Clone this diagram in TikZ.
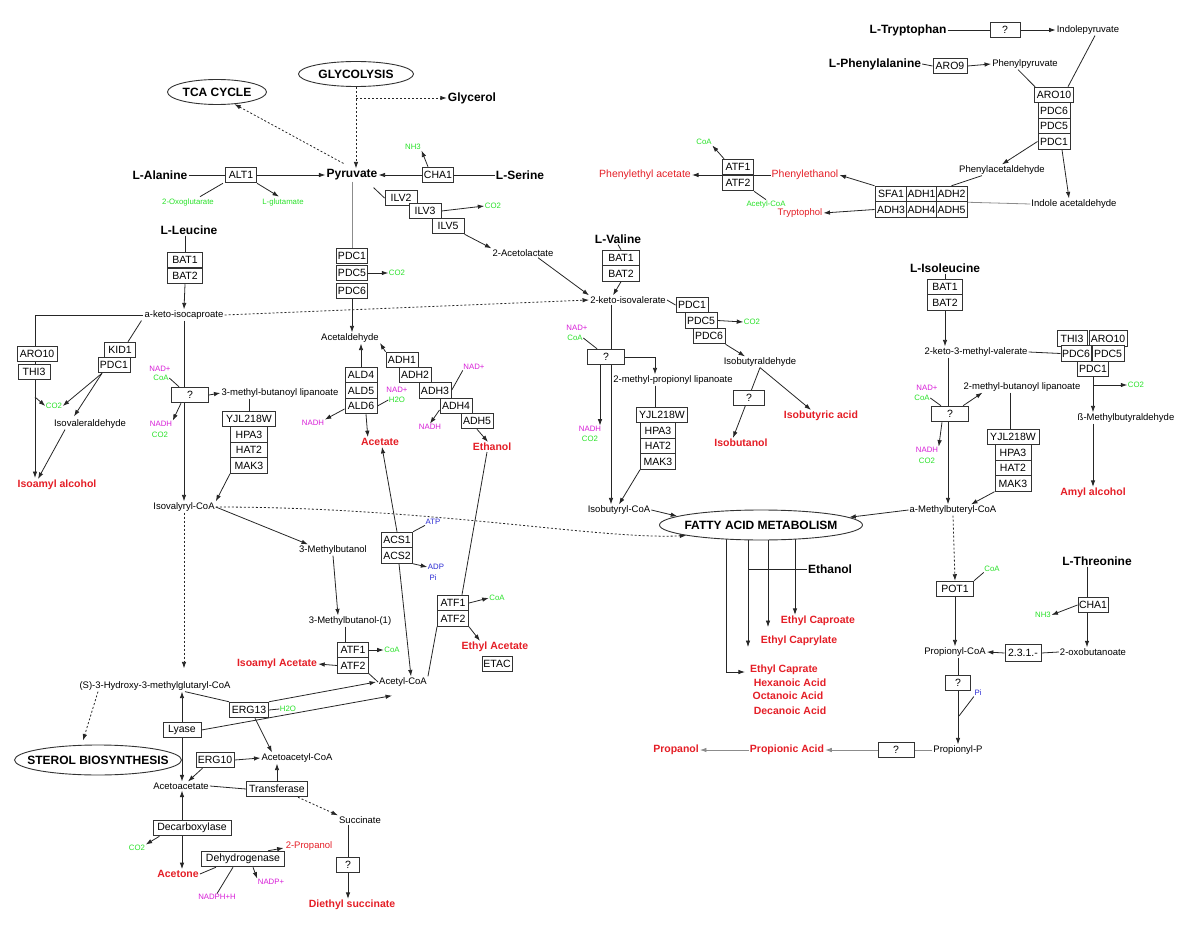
\documentclass[tikz,border=0pt]{standalone}
\usepackage{fontspec}
\setmainfont{Liberation Sans}
\usetikzlibrary{shapes.geometric,arrows.meta,calc,backgrounds}
\definecolor{fred}{RGB}{228,30,38}
\definecolor{fgreen}{RGB}{40,225,40}
\definecolor{fmag}{RGB}{215,30,215}
\definecolor{fblue}{RGB}{40,40,210}
\begin{document}
\begin{tikzpicture}[x=1pt,y=-1pt,
  bigtxt/.style={font=\fontsize{12}{14}\selectfont\bfseries, inner sep=1pt},
  met/.style={font=\fontsize{9.5}{11}\selectfont, inner sep=1pt},
  prod/.style={font=\fontsize{10.5}{12}\selectfont\bfseries, text=fred, inner sep=1pt},
  prodr/.style={font=\fontsize{10.5}{12}\selectfont, text=fred, inner sep=1pt},
  enz/.style={draw=black!80, line width=1pt, fill=white, font=\fontsize{10.5}{12}\selectfont, minimum height=15.5pt, minimum width=31pt, inner sep=1pt},
  coflbl/.style={font=\fontsize{7.8}{9}\selectfont, inner sep=0.5pt},
  cofg/.style={coflbl, text=fgreen},
  cofm/.style={coflbl, text=fmag},
  cofb/.style={coflbl, text=fblue},
  pw/.style={ellipse, draw=black!80, line width=0.9pt, fill=white, font=\fontsize{12}{14}\selectfont\bfseries, inner xsep=0pt, inner ysep=2pt},
  ln/.style={draw=black!85, line width=0.8pt},
  arr/.style={ln, -{Latex[length=6.5pt,width=4.5pt]}},
  dsh/.style={dash pattern=on 2pt off 2pt},
  gry/.style={draw=black!45},
]
\useasboundingbox (0,0) rectangle (1200,928);

% ---------- pathway ellipses ----------
\node[pw, minimum width=115pt, minimum height=25pt] (glyc) at (356,74) {GLYCOLYSIS};
\node[pw, minimum width=99pt, minimum height=25pt] (tca) at (217,92) {TCA CYCLE};
\node[pw, minimum width=203pt, minimum height=30pt, inner xsep=-10pt] (fam) at (761,525) {FATTY ACID METABOLISM};
\node[pw, minimum width=167pt, minimum height=30pt, inner xsep=-16pt] (sterol) at (98,760) {STEROL BIOSYNTHESIS};

% ---------- big labels ----------
\node[bigtxt] (glycerol) at (472,98) {Glycerol};
\node[bigtxt] (alanine) at (160,175) {L-Alanine};
\node[bigtxt] (pyruvate) at (352,175) {Pyruvate};
\node[bigtxt] (serine) at (520,175) {L-Serine};
\node[bigtxt] (leucine) at (189,230) {L-Leucine};
\node[bigtxt] (valine) at (618,239) {L-Valine};
\node[bigtxt] (trp) at (908,30) {L-Tryptophan};
\node[bigtxt] (phe) at (875,64) {L-Phenylalanine};
\node[bigtxt] (ile) at (945,268) {L-Isoleucine};
\node[bigtxt] (thr) at (1097,561) {L-Threonine};
\node[bigtxt] (ethfa) at (830,569) {Ethanol};

% ---------- metabolites ----------
\node[met] (acetolactate) at (523,253) {2-Acetolactate};
\node[met] (kiv) at (628,300) {2-keto-isovalerate};
\node[met] (kic) at (184,315) {a-keto-isocaproate};
\node[met] (isovald) at (90,424) {Isovaleraldehyde};
\node[met] (mbl) at (280,393) {3-methyl-butanoyl lipanoate};
\node[met] (ivcoa) at (184,507) {Isovalyryl-CoA};
\node[met] (mb) at (333,550) {3-Methylbutanol};
\node[met] (mb1) at (350,621) {3-Methylbutanol-(1)};
\node[met] (acetald) at (350,338) {Acetaldehyde};
\node[met] (accoa) at (403,682) {Acetyl-CoA};
\node[met] (hmg) at (155,686) {(S)-3-Hydroxy-3-methylglutaryl-CoA};
\node[met] (acacoa) at (297,758) {Acetoacetyl-CoA};
\node[met] (acac) at (181,786) {Acetoacetate};
\node[met] (succ) at (360,820) {Succinate};
\node[met] (mpl) at (673,380) {2-methyl-propionyl lipanoate};
\node[met] (ibald) at (760,362) {Isobutyraldehyde};
\node[met] (ibcoa) at (619,510) {Isobutyryl-CoA};
\node[met] (indpyr) at (1088,30) {Indolepyruvate};
\node[met] (phepyr) at (1025,64) {Phenylpyruvate};
\node[met] (pheald) at (1002,170) {Phenylacetaldehyde};
\node[met] (indald) at (1074,204) {Indole acetaldehyde};
\node[met] (kmv) at (976,352) {2-keto-3-methyl-valerate};
\node[met] (mbul) at (1022,387) {2-methyl-butanoyl lipanoate};
\node[met] (bmb) at (1126,418) {ß-Methylbutyraldehyde};
\node[met] (mbcoa) at (953,510) {a-Methylbuteryl-CoA};
\node[met] (propcoa) at (955,652) {Propionyl-CoA};
\node[met] (oxob) at (1093,652) {2-oxobutanoate};
\node[met] (propp) at (958,750) {Propionyl-P};

% ---------- products ----------
\node[prod] (isoamylalc) at (57,485) {Isoamyl alcohol};
\node[prod] (acetate) at (380,442) {Acetate};
\node[prod] (ethanol) at (492,447) {Ethanol};
\node[prod] (isoamylac) at (277,664) {Isoamyl Acetate};
\node[prod] (ethylac) at (495,647) {Ethyl Acetate};
\node[prod] (acetone) at (178,874) {Acetone};
\node[prod] (dsucc) at (352,905) {Diethyl succinate};
\node[prod] (isobutanol) at (741,443) {Isobutanol};
\node[prod] (isobutacid) at (821,416) {Isobutyric acid};
\node[prod] (amyl) at (1093,493) {Amyl alcohol};
\node[prod] (ecaproate) at (818,621) {Ethyl Caproate};
\node[prod] (ecaprylate) at (799,641) {Ethyl Caprylate};
\node[prod] (ecaprate) at (784,670) {Ethyl Caprate};
\node[prod] (hexa) at (790,683) {Hexanoic Acid};
\node[prod] (octa) at (788,696) {Octanoic Acid};
\node[prod] (deca) at (790,711) {Decanoic Acid};
\node[prod] (propionic) at (787,750) {Propionic Acid};
\node[prod] (propanol) at (676,750) {Propanol};
\node[prodr] (pea) at (645,175) {Phenylethyl acetate};
\node[prodr] (phet) at (805,175) {Phenylethanol};
\node[prodr, font=\fontsize{9.5}{11}\selectfont] (tryptophol) at (800,213) {Tryptophol};
\node[prodr, font=\fontsize{9.5}{11}\selectfont] (propanol2) at (309,846) {2-Propanol};

% ---------- enzymes ----------
\node[enz] (alt1) at (241,175) {ALT1};
\node[enz] (cha1) at (438,175) {CHA1};
\node[enz, minimum width=32pt] (ilv2) at (401,198) {ILV2};
\node[enz, minimum width=32pt] (ilv3) at (425,211) {ILV3};
\node[enz, minimum width=32pt] (ilv5) at (448,226) {ILV5};
\node[enz] (pdc1a) at (352,256) {PDC1};
\node[enz] (pdc5a) at (352,273) {PDC5};
\node[enz] (pdc6a) at (352,291) {PDC6};
\node[enz, minimum width=35pt] (bat1a) at (185,260) {BAT1};
\node[enz, minimum width=35pt] (bat2a) at (185,276) {BAT2};
\node[enz, minimum width=40pt] (aro10a) at (37,354) {ARO10};
\node[enz, minimum width=32pt] (thi3a) at (34,372) {THI3};
\node[enz] (kid1) at (120,350) {KID1};
\node[enz, minimum width=32pt] (pdc1b) at (114,365) {PDC1};
\node[enz, minimum width=37pt] (qa) at (190,395) {?};
\node[enz, minimum width=53pt] (yjla) at (249,419) {YJL218W};
\node[enz, minimum width=37pt] (hpa3a) at (249,434.5) {HPA3};
\node[enz, minimum width=37pt] (hat2a) at (249,450) {HAT2};
\node[enz, minimum width=37pt] (mak3a) at (249,465.5) {MAK3};
\node[enz, minimum width=32pt] (ald4) at (361,375) {ALD4};
\node[enz, minimum width=32pt] (ald5) at (361,390.5) {ALD5};
\node[enz, minimum width=32pt] (ald6) at (361,406) {ALD6};
\node[enz, minimum width=32pt] (adh1) at (402,360) {ADH1};
\node[enz, minimum width=32pt] (adh2) at (415,375) {ADH2};
\node[enz, minimum width=32pt] (adh3) at (435,390.5) {ADH3};
\node[enz, minimum width=32pt] (adh4) at (456,406) {ADH4};
\node[enz, minimum width=32pt] (adh5) at (477,421) {ADH5};
\node[enz] (acs1) at (397,540) {ACS1};
\node[enz] (acs2) at (397,555.5) {ACS2};
\node[enz] (atf1a) at (353,650) {ATF1};
\node[enz] (atf2a) at (353,665.5) {ATF2};
\node[enz] (atf1b) at (453,603) {ATF1};
\node[enz] (atf2b) at (453,618.5) {ATF2};
\node[enz, minimum width=30pt] (etac) at (497,664) {ETAC};
\node[enz, minimum width=39pt] (erg13) at (249,710) {ERG13};
\node[enz, minimum width=38pt] (lyase) at (182,730) {Lyase};
\node[enz, minimum width=38pt] (erg10) at (215,760) {ERG10};
\node[enz, minimum width=61pt] (transferase) at (277,789) {Transferase};
\node[enz, minimum width=78pt] (decarb) at (192,828) {Decarboxylase};
\node[enz, minimum width=83pt] (dehyd) at (243,859) {Dehydrogenase};
\node[enz, minimum width=23pt] (qsucc) at (348,865) {?};
\node[enz, minimum width=37pt] (bat1b) at (621,258) {BAT1};
\node[enz, minimum width=37pt] (bat2b) at (621,273.5) {BAT2};
\node[enz, minimum width=32pt] (pdc1c) at (692,305) {PDC1};
\node[enz, minimum width=32pt] (pdc5c) at (701,320.5) {PDC5};
\node[enz, minimum width=32pt] (pdc6c) at (709,336) {PDC6};
\node[enz, minimum width=37pt] (qb) at (606,357) {?};
\node[enz, minimum width=51pt] (yjlb) at (662,415) {YJL218W};
\node[enz, minimum width=35pt] (hpa3b) at (658,430.5) {HPA3};
\node[enz, minimum width=35pt] (hat2b) at (658,446) {HAT2};
\node[enz, minimum width=35pt] (mak3b) at (658,461.5) {MAK3};
\node[enz] (qc) at (749,398) {?};
\node[enz] (atf1c) at (738,167) {ATF1};
\node[enz] (atf2c) at (738,183) {ATF2};
\node[enz, minimum width=30pt] (qtrp) at (1005,30) {?};
\node[enz, minimum width=34pt] (aro9) at (950,66) {ARO9};
\node[enz, minimum width=39pt] (aro10b) at (1054,95) {ARO10};
\node[enz, minimum width=32pt] (pdc6b) at (1054,110.5) {PDC6};
\node[enz, minimum width=32pt] (pdc5b) at (1054,126) {PDC5};
\node[enz, minimum width=32pt] (pdc1d) at (1054,141.5) {PDC1};
\node[enz, minimum width=32pt] (sfa1) at (891,194) {SFA1};
\node[enz, minimum width=29pt] (adh1b) at (921.5,194) {ADH1};
\node[enz, minimum width=31pt] (adh2b) at (951.5,194) {ADH2};
\node[enz, minimum width=32pt] (adh3b) at (891,209.5) {ADH3};
\node[enz, minimum width=29pt] (adh4b) at (921.5,209.5) {ADH4};
\node[enz, minimum width=31pt] (adh5b) at (951.5,209.5) {ADH5};
\node[enz, minimum width=35pt] (bat1c) at (945,287) {BAT1};
\node[enz, minimum width=35pt] (bat2c) at (945,302.5) {BAT2};
\node[enz, minimum width=30pt] (thi3b) at (1072,338.5) {THI3};
\node[enz, minimum width=38pt] (aro10c) at (1108,338.5) {ARO10};
\node[enz, minimum width=30pt] (pdc6d) at (1076,353.5) {PDC6};
\node[enz, minimum width=32pt] (pdc5d) at (1108,353.5) {PDC5};
\node[enz, minimum width=31pt] (pdc1e) at (1093,369) {PDC1};
\node[enz, minimum width=37pt] (qd) at (950,414) {?};
\node[enz, minimum width=52pt] (yjlc) at (1013,437) {YJL218W};
\node[enz, minimum width=36pt] (hpa3c) at (1013,452.5) {HPA3};
\node[enz, minimum width=36pt] (hat2c) at (1013,468) {HAT2};
\node[enz, minimum width=36pt] (mak3c) at (1013,483.5) {MAK3};
\node[enz, minimum width=37pt] (pot1) at (955,589) {POT1};
\node[enz, minimum width=30pt] (cha1b) at (1093,605) {CHA1};
\node[enz, minimum width=36pt, minimum height=17pt] (ec231) at (1023,653) {2.3.1.-};
\node[enz, minimum width=25pt] (qe) at (958,683) {?};
\node[enz, minimum width=36pt] (qf) at (896,750) {?};

% ---------- cofactors ----------
\node[cofg] (oxoglu) at (188,202) {2-Oxoglutarate};
\node[cofg] (lglu) at (283,202) {L-glutamate};
\node[cofg] (nh3a) at (413,147) {NH3};
\node[cofg] (co2a) at (397,273) {CO2};
\node[cofg] (co2b) at (493,206) {CO2};
\node[cofg] (coa1) at (704,142) {CoA};
\node[cofg] (accoag) at (766,204) {Acetyl-CoA};
\node[cofg] (co2c) at (54,406) {CO2};
\node[cofm] (nadq) at (160,369) {NAD+};
\node[cofg] (coaq) at (161,378) {CoA};
\node[cofm] (nadh1) at (161,424) {NADH};
\node[cofg] (co2d) at (160,435) {CO2};
\node[cofm] (nadald) at (397,390) {NAD+};
\node[cofg] (h2o) at (397,400) {H2O};
\node[cofm] (nadhald) at (313,423) {NADH};
\node[cofm] (nadadh) at (474,367) {NAD+};
\node[cofm] (nadhadh) at (430,427) {NADH};
\node[cofb] (atp) at (433,522) {ATP};
\node[cofb] (adp) at (436,567) {ADP};
\node[cofb] (pi) at (433,578) {Pi};
\node[cofg] (coaatfb) at (497,598) {CoA};
\node[cofg] (coaatfa) at (392,650) {CoA};
\node[cofg] (h2oerg) at (288,709) {H2O};
\node[cofg] (co2e) at (137,848) {CO2};
\node[cofm] (nadp) at (271,882) {NADP+};
\node[cofm] (nadph) at (217,897) {NADPH+H};
\node[cofm] (nadv) at (577,328) {NAD+};
\node[cofg] (coav) at (575,338) {CoA};
\node[cofm] (nadhv) at (590,429) {NADH};
\node[cofg] (co2v) at (590,439) {CO2};
\node[cofg] (co2pdc) at (752,322) {CO2};
\node[cofm] (nadi) at (927,388) {NAD+};
\node[cofg] (coai) at (922,398) {CoA};
\node[cofm] (nadhi) at (927,450) {NADH};
\node[cofg] (co2i) at (927,461) {CO2};
\node[cofg] (co2ile) at (1136,385) {CO2};
\node[cofg] (coapot) at (992,569) {CoA};
\node[cofg] (nh3b) at (1043,615) {NH3};
\node[cofb] (pi2) at (978,693) {Pi};

% ---------- helper coordinates ----------
\coordinate (c1) at (35,397);
\coordinate (ia1) at (35,478);
\coordinate (fa1) at (726,539);
\coordinate (fa2) at (748,540);
\coordinate (fa3) at (768,540);
\coordinate (fa4) at (795,539);
\coordinate (vx) at (655,0);
\coordinate (kx) at (611,0);
\coordinate (ix) at (948,0);
\coordinate (yx) at (1010,0);
\coordinate (tx) at (1087,0);
\coordinate (ax) at (345,0);
\coordinate (lx) at (182,0);
\coordinate (pb) at (1093,385);
\coordinate (pj) at (959,716);
\coordinate (qbs) at (600,365);

% ---------- connectors ----------
\begin{scope}[on background layer]
% pyruvate hub
\draw[ln] (alanine.east) -- (alt1.west);
\draw[arr] (alt1.east) -- (pyruvate.west);
\draw[ln] ($(alt1.south west)+(-2,0)$) -- ($(oxoglu.north)+(12,-1)$);
\draw[arr] (alt1.south east) -- ($(lglu.north)+(-4,-1)$);
\draw[ln] (serine.west) -- (cha1.east);
\draw[arr] (cha1.west) -- (pyruvate.east);
\draw[arr] ($(cha1.north west)+(6,0)$) -- (nh3a.south east);
\draw[ln, dsh, -{Latex[length=6.5pt,width=4.5pt]}] (glyc.south) -- (glyc.south |- pyruvate.north);
\draw[ln, dsh, -{Latex[length=6.5pt,width=4.5pt]}] (glyc.south |- glycerol.west) -- (glycerol.west);
\draw[ln, dsh, -{Latex[length=6.5pt,width=4.5pt]}] ($(pyruvate.north west)+(18,-5)$) -- (tca.-35);
\draw[ln, gry] (pyruvate.south) -- (pdc1a.north);
\draw[arr] (pdc5a.east) -- (co2a.west);
\draw[ln] ($(pyruvate.south east)+(-5,6)$) -- (ilv2.west);
\draw[arr] (ilv3.east) -- (co2b.west);
\draw[arr] (ilv5.south east) -- (acetolactate.north west);
\draw[arr] ($(acetolactate.south)+(15,0)$) -- ($(kiv.north west)+(0,0)$);
% leucine
\draw[ln] (bat1a.north |- leucine.south) -- (bat1a.north);
\draw[arr] (bat2a.south) -- (kic.north);
\draw[ln, dsh, -{Latex[length=6.5pt,width=4.5pt]}] (kic.east) -- (kiv.west);
\draw[arr] (kic.west) -| (ia1);
\draw[arr] (c1) -- (co2c.west);
\draw[ln] ($(kic.south west)+(-2,0)$) -- ($(kid1.north east)+(-8,0)$);
\draw[arr] ($(pdc1b.south)+(-12,0)$) -- (co2c.east);
\draw[arr] ($(pdc1b.south)+(-12,0)$) -- ($(isovald.north)+(-16,-2)$);
\draw[arr] ($(isovald.south)+(-25,0)$) -- ($(isoamylalc.north)+(-19,0)$);
\draw[arr] (kic.south) -- (ivcoa.north);
\draw[ln] (coaq.east) -- ($(qa.north west)+(8,0)$);
\draw[arr] (qa.east) -- (mbl.west);
\draw[arr] ($(qa.south west)+(10,0)$) -- (nadh1.north east);
\draw[ln] (yjla.north |- mbl.south) -- (yjla.north);
\draw[arr] (mak3a.south west) -- (ivcoa.north east);
\draw[arr] (ivcoa.east) -- ($(mb.north west)+(10,0)$);
\draw[ln, dsh, -{Latex[length=6.5pt,width=4.5pt]}] (ivcoa.south) -- ($(ivcoa.south |- hmg.north)+(0,-12)$);
\draw[ln, dsh, -{Latex[length=6.5pt,width=4.5pt]}] (ivcoa.east) .. controls (430,507) and (600,540) .. (fam.188);
\draw[arr] (mb.south) -- ($(mb1.north)+(-12,0)$);
% acetaldehyde / acetate / ethanol
\draw[arr] (pdc6a.south) -- (pdc6a.south |- acetald.north);
\draw[arr] (ald4.north) -- (ald4.north |- acetald.south);
\draw[arr] (adh1.north west) -- ($(acetald.east)+(0,5)$);
\draw[ln] (ald6.east) -- (h2o.west);
\draw[arr] ($(ald6.west)+(0,3)$) -- (nadhald.north east);
\draw[arr] ($(ald6.south)+(5,0)$) -- ($(acetate.north west)+(8,0)$);
\draw[ln] (adh3.east) -- (nadadh.south west);
\draw[arr] ($(adh4.west)+(0,4)$) -- (nadhadh.north);
\draw[arr] (adh5.south) -- ($(ethanol.north)+(-4,0)$);
\draw[ln] ($(ethanol.south)+(-5,0)$) -- ($(atf1b.north)+(9,0)$);
\draw[arr] (acs1.north) -- ($(acetate.south)+(2,0)$);
\draw[ln] (acs1.north east) -- (atp.south west);
\draw[arr] (acs2.south east) -- (adp.west);
\draw[arr] ($(acs2.south)+(2,0)$) -- ($(accoa.north)+(8,0)$);
\draw[ln] (mb1.south -| ax) -- (atf1a.north -| ax);
\draw[arr] (atf1a.east) -- (coaatfa.west);
\draw[arr] (atf2a.west) -- (isoamylac.east);
\draw[ln] (atf2a.south east) -- (accoa.west);
\draw[ln] (atf2b.south west) -- (accoa.north east);
\draw[arr] (atf1b.east) -- (coaatfb.west);
\draw[arr] (atf2b.south east) -- ($(ethylac.north)+(-15,0)$);
% sterol branch
\draw[ln, dsh, -{Latex[length=6.5pt,width=4.5pt]}] ($(hmg.south)+(-57,0)$) -- ($(sterol.north)+(-15,-4)$);
\draw[arr] (lyase.north) -- (lyase.north |- hmg.south);
\draw[arr] (lyase.south) -- (lyase.south |- acac.north);
\draw[arr] (lyase.east) -- ($(accoa.south west)+(14,8)$);
\draw[ln] ($(hmg.south)+(30,0)$) -- (erg13.north west);
\draw[arr] (erg13.north east) -- ($(accoa.west)+(-2,0)$);
\draw[ln] (erg13.east) -- (h2oerg.west);
\draw[arr] ($(erg13.south)+(6,0)$) -- ($(acacoa.north)+(-25,0)$);
\draw[arr] (erg10.east) -- (acacoa.west);
\draw[arr] ($(erg10.south west)+(7,0)$) -- ($(acac.north)+(7,0)$);
\draw[ln] (acac.east) -- (transferase.west);
\draw[arr] (transferase.north) -- (transferase.north |- acacoa.south);
\draw[ln, dsh, -{Latex[length=6.5pt,width=4.5pt]}] ($(transferase.south east)+(-10,0)$) -- (succ.north west);
\draw[ln] (qsucc.north |- succ.south) -- (qsucc.north);
\draw[arr] (qsucc.south) -- (qsucc.south |- dsucc.north);
\draw[arr] (decarb.north -| lx) -- (acac.south -| lx);
\draw[arr] (decarb.south -| lx) -- (acetone.north -| lx);
\draw[arr] ($(decarb.south west)+(7,0)$) -- (co2e.north east);
\draw[ln] (acetone.east) -- ($(dehyd.south west)+(15,0)$);
\draw[arr] ($(dehyd.north east)+(-17,0)$) -- ($(propanol2.west)+(-1,2)$);
\draw[arr] ($(dehyd.south)+(10,0)$) -- (nadp.north west);
\draw[ln] ($(dehyd.south)+(-10,0)$) -- (nadph.north);
% valine
\draw[ln] (valine.south) -- (bat1b.north);
\draw[arr] (bat2b.south) -- ($(kiv.north)+(-15,0)$);
\draw[ln] (kiv.east) -- (pdc1c.west);
\draw[arr] (pdc5c.east) -- (co2pdc.west);
\draw[arr] (pdc6c.south east) -- ($(ibald.north)+(-15,0)$);
\draw[arr] (kiv.south -| kx) -- (ibcoa.north -| kx);
\draw[ln] (coav.east) -- ($(qb.north west)+(10,0)$);
\draw[arr] (qb.east) -| (mpl.north -| vx);
\draw[arr] (qbs) -- (qbs |- nadhv.north);
\draw[ln] (mpl.south -| vx) -- (yjlb.north -| vx);
\draw[arr] (mak3b.south west) -- (ibcoa.north);
\draw[arr] (ibald.south) -- ($(isobutanol.north)+(-8,0)$);
\draw[arr] (ibald.south) -- ($(isobutacid.north)+(-10,0)$);
\draw[arr] (ibcoa.east) -- (fam.174);
% phenylalanine / tryptophan
\draw[arr] (phet.west) -- (pea.east);
\draw[arr] ($(atf1c.north west)+(2,0)$) -- (coa1.south east);
\draw[ln] (atf2c.south east) -- (accoag.north);
\draw[arr] (sfa1.north west) -- (phet.east);
\draw[arr] (adh3b.west) -- (tryptophol.east);
\draw[ln] ($(pheald.south)+(-20,0)$) -- (adh2b.north);
\draw[ln, gry] (indald.west) -- (adh2b.south east);
\draw[ln] (trp.east) -- (qtrp.west);
\draw[arr] (qtrp.east) -- (indpyr.west);
\draw[ln] (phe.east) -- (aro9.west);
\draw[arr] (aro9.east) -- (phepyr.west);
\draw[ln] ($(phepyr.south)+(-7,0)$) -- ($(aro10b.north west)+(1,0)$);
\draw[ln] ($(indpyr.south)+(7,0)$) -- ($(aro10b.north east)+(-6,0)$);
\draw[arr] (pdc1d.west) -- (pheald.north);
\draw[arr] ($(pdc1d.south)+(8,0)$) -- ($(indald.north)+(-5,0)$);
% isoleucine
\draw[ln] (ile.south) -- (bat1c.north);
\draw[arr] (bat2c.south) -- (bat2c.south |- kmv.north);
\draw[ln] (kmv.east) -- (pdc6d.west);
\draw[arr] (kmv.south -| ix) -- (mbcoa.north -| ix);
\draw[ln] (coai.east) -- ($(qd.north west)+(10,0)$);
\draw[arr] ($(qd.north east)+(-6,0)$) -- ($(mbul.south west)+(20,0)$);
\draw[arr] ($(qd.south west)+(11,0)$) -- (nadhi.north east);
\draw[ln] (mbul.south -| yx) -- (yjlc.north -| yx);
\draw[arr] (mak3c.south west) -- ($(mbcoa.north)+(18,0)$);
\draw[arr] (mbcoa.west) -- (fam.5);
\draw[ln] (pdc1e.south) -- (pb);
\draw[arr] (pb) -- (co2ile.west);
\draw[arr] (pb) -- (bmb.north -| pb);
\draw[arr] (bmb.south -| pb) -- (amyl.north);
\draw[ln, dsh, -{Latex[length=6.5pt,width=4.5pt]}] (mbcoa.south) -- (pot1.north);
\draw[ln] (pot1.north east) -- (coapot.south west);
\draw[arr] (pot1.south) -- (propcoa.north);
% threonine / propionate
\draw[ln] (thr.south -| tx) -- (cha1b.north -| tx);
\draw[arr] (cha1b.south -| tx) -- (oxob.north -| tx);
\draw[arr] (cha1b.west) -- (nh3b.east);
\draw[ln] (oxob.west) -- (ec231.east);
\draw[arr] (ec231.west) -- (propcoa.east);
\draw[ln] (qe.north |- propcoa.south) -- (qe.north);
\draw[arr] (qe.south) -- (propp.north);
\draw[ln] (pi2.south west) -- (pj);
\draw[ln, gry] (propp.west) -- (qf.east);
\draw[arr, gry] (qf.west) -- (propionic.east);
\draw[arr, gry] (propionic.west) -- (propanol.east);
% fatty acids
\draw[arr] (fa1) |- ($(ecaprate.west)+(-4,2)$);
\draw[arr] (fa2) -- (fa2 |- ecaprylate.south);
\draw[arr] (fa3) -- (fa3 |- ecaproate.south);
\draw[arr] (fa4) -- (fa4 |- ecaproate.north);
\draw[ln] (ethfa.west) -- (ethfa.west -| fa2);
\end{scope}
\end{tikzpicture}
\end{document}
